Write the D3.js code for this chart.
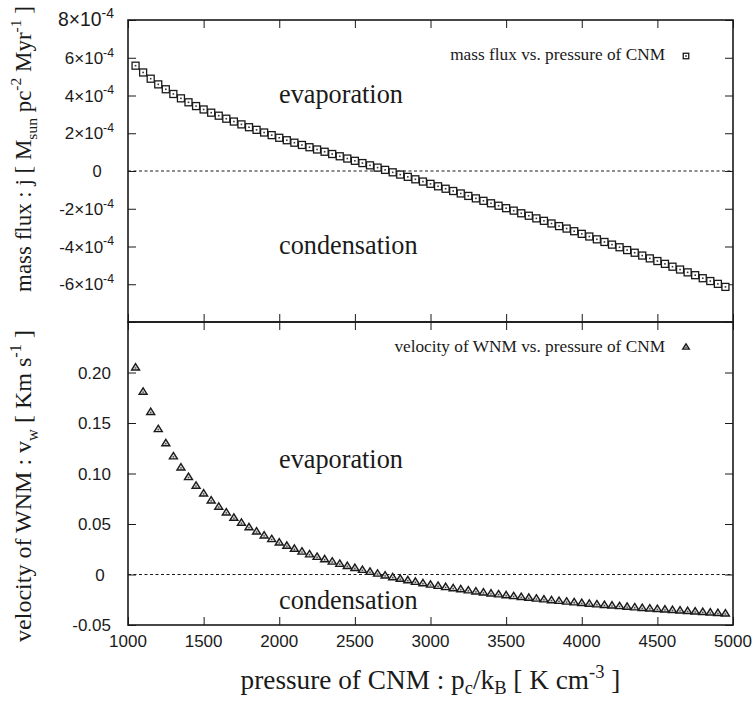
<!DOCTYPE html>
<html><head><meta charset="utf-8">
<script src="https://cdn.jsdelivr.net/npm/d3@7"></script>
<style>body{margin:0;background:#fff}svg{display:block}</style>
</head><body>
<svg id="chart" width="756" height="704"></svg>
<script>
// ---------- data ----------
const pressure = [1050,1100,1150,1200,1250,1300,1350,1400,1450,1500,1550,1600,1650,1700,1750,1800,1850,1900,1950,2000,
  2050,2100,2150,2200,2250,2300,2350,2400,2450,2500,2550,2600,2650,2700,2750,2800,2850,2900,2950,3000,
  3050,3100,3150,3200,3250,3300,3350,3400,3450,3500,3550,3600,3650,3700,3750,3800,3850,3900,3950,4000,
  4050,4100,4150,4200,4250,4300,4350,4400,4450,4500,4550,4600,4650,4700,4750,4800,4850,4900,4950];
const massFlux = [5.58e-4,5.22e-4,4.89e-4,4.59e-4,4.33e-4,4.08e-4,3.85e-4,3.64e-4,3.44e-4,3.26e-4,3.09e-4,2.93e-4,
  2.77e-4,2.62e-4,2.47e-4,2.32e-4,2.18e-4,2.04e-4,1.90e-4,1.76e-4,1.63e-4,1.50e-4,1.38e-4,1.26e-4,1.14e-4,1.02e-4,
  0.90e-4,0.78e-4,0.66e-4,0.54e-4,0.42e-4,0.30e-4,0.18e-4,0.06e-4,-0.07e-4,-0.19e-4,
  -0.31e-4,-0.44e-4,-0.56e-4,-0.68e-4,-0.81e-4,-0.94e-4,-1.06e-4,-1.19e-4,-1.32e-4,-1.45e-4,-1.58e-4,-1.71e-4,
  -1.84e-4,-1.97e-4,-2.10e-4,-2.24e-4,-2.37e-4,-2.51e-4,-2.64e-4,-2.78e-4,-2.92e-4,-3.05e-4,-3.19e-4,-3.33e-4,
  -3.47e-4,-3.62e-4,-3.76e-4,-3.90e-4,-4.04e-4,-4.19e-4,-4.33e-4,-4.48e-4,-4.63e-4,-4.77e-4,-4.92e-4,-5.07e-4,
  -5.22e-4,-5.37e-4,-5.52e-4,-5.68e-4,-5.83e-4,-5.98e-4,-6.14e-4];
const velocity = [0.205,0.181,0.161,0.144,0.130,0.117,0.106,0.0965,0.0880,0.0803,0.0734,0.0672,0.0615,0.0562,0.0513,
  0.0468,0.0426,0.0387,0.0351,0.0317,0.0285,0.0255,0.0227,0.0200,0.0175,0.0151,0.0128,0.0106,0.0085,0.0065,0.0046,
  0.0027,0.0009,-0.0009,-0.0026,-0.0042,-0.0057,-0.0072,-0.0086,-0.0100,-0.0112,-0.0124,-0.0135,-0.0146,-0.0157,
  -0.0167,-0.0177,-0.0187,-0.0196,-0.0205,-0.0214,-0.0222,-0.0230,-0.0238,-0.0246,-0.0254,-0.0261,-0.0268,-0.0275,
  -0.0282,-0.0289,-0.0295,-0.0301,-0.0307,-0.0313,-0.0319,-0.0325,-0.0331,-0.0336,-0.0341,-0.0346,-0.0351,-0.0356,
  -0.0361,-0.0366,-0.0371,-0.0376,-0.0381,-0.0386];
const xTicks = [1000,1500,2000,2500,3000,3500,4000,4500,5000];
const xTickLabels = ["1000","1500","2000","2500","3000","3500","4000","4500","5000"];
const fluxTicks = [-8e-4,-6e-4,-4e-4,-2e-4,0,2e-4,4e-4,6e-4,8e-4];
const fluxTickMantissa = ["", "-6","-4","-2","0","2","4","6","8"];
const velTicks = [-0.05,0,0.05,0.10,0.15,0.20,0.25];
const velTickLabels = ["-0.05","0","0.05","0.10","0.15","0.20",""];
const legendFlux = "mass flux vs. pressure of CNM";
const legendVel = "velocity of WNM vs. pressure of CNM";
const regionUp = "evaporation", regionDown = "condensation";

// ---------- layout ----------
const L=128, R=733, T1=20, M=322, B2=625, TK=8;
const SANS="'Liberation Sans', Arial, sans-serif", SERIF="'Liberation Serif', 'Times New Roman', serif";
const INK="#1a1a1a";
const svg=d3.select('#chart');
const x=d3.scaleLinear().domain([1000,5000]).range([L,R]);
const yTop=d3.scaleLinear().domain([-8e-4,8e-4]).range([M,T1]);
const yBot=d3.scaleLinear().domain([-0.05,0.25]).range([B2,M]);

function ticks(axis, tr){
  const g=svg.append('g').attr('transform',tr).call(axis.tickFormat('').tickSizeOuter(0));
  g.select('.domain').remove();
  g.selectAll('line').attr('stroke',INK).attr('stroke-width',1);
}
ticks(d3.axisTop(x).tickValues(xTicks).tickSizeInner(-TK), `translate(0,${T1})`);
ticks(d3.axisBottom(x).tickValues(xTicks).tickSizeInner(-TK), `translate(0,${M})`);
ticks(d3.axisTop(x).tickValues(xTicks).tickSizeInner(-TK), `translate(0,${M})`);
ticks(d3.axisBottom(x).tickValues(xTicks).tickSizeInner(-TK), `translate(0,${B2})`);
ticks(d3.axisLeft(yTop).tickValues(fluxTicks).tickSizeInner(-TK), `translate(${L},0)`);
ticks(d3.axisRight(yTop).tickValues(fluxTicks).tickSizeInner(-TK), `translate(${R},0)`);
ticks(d3.axisLeft(yBot).tickValues(velTicks).tickSizeInner(-TK), `translate(${L},0)`);
ticks(d3.axisRight(yBot).tickValues(velTicks).tickSizeInner(-TK), `translate(${R},0)`);

[yTop,yBot].forEach(s=>{
  svg.append('line').attr('x1',L).attr('x2',R).attr('y1',s(0)).attr('y2',s(0))
    .attr('stroke',INK).attr('stroke-width',1).attr('stroke-dasharray','3,2.5');
});

svg.append('rect').attr('x',L).attr('y',T1).attr('width',R-L).attr('height',M-T1)
  .attr('fill','none').attr('stroke',INK).attr('stroke-width',1.6);
svg.append('rect').attr('x',L).attr('y',M).attr('width',R-L).attr('height',B2-M)
  .attr('fill','none').attr('stroke',INK).attr('stroke-width',1.6);

function rich(g, parts, size, small, subShift){
  small = small || 0.68; subShift = subShift || 0.28;
  g.selectAll('tspan').remove();
  g.attr('font-size',size);
  let shift=0;
  parts.forEach(([t,type])=>{
    const target = type==='sup' ? -0.42*size : type==='sub' ? subShift*size : 0;
    const ts=g.append('tspan').text(t).attr('dy',target-shift);
    if(type) ts.attr('font-size',small*size);
    shift=target;
  });
}
function fit(g, parts, target, small, subShift){
  rich(g, parts, 20, small, subShift);
  const w=g.node().getComputedTextLength();
  const s=20*target/w;
  rich(g, parts, s, small, subShift);
  return s;
}

// y tick labels (top): size fitted so that "8x10^-4" spans ~56px
let fluxSize=17;
fluxTicks.forEach((v,i)=>{
  const m=fluxTickMantissa[i]; if(!m) return;
  const t=svg.append('text').attr('font-family',SANS).attr('fill',INK).attr('y',yTop(v)+6);
  if(m==="0"){ t.attr('x',97).attr('text-anchor','middle').attr('font-size',16.5).text("0"); }
  else {
    t.attr('x',114).attr('text-anchor','end');
    if(m==="8") fluxSize=fit(t,[[m+"×10",null],["-4","sup"]],56,0.72);
    else rich(t,[[m+"×10",null],["-4","sup"]],fluxSize,0.72);
  }
});
// y tick labels (bottom)
velTicks.forEach((v,i)=>{
  const lab=velTickLabels[i]; if(!lab) return;
  svg.append('text').attr('font-family',SANS).attr('fill',INK).attr('font-size',17)
    .attr('x', lab==="0"?100:111).attr('text-anchor', lab==="0"?'middle':'end')
    .attr('y',yBot(v)+6).text(lab);
});
// x tick labels
xTicks.forEach((v,i)=>{
  svg.append('text').attr('font-family',SANS).attr('fill',INK).attr('font-size',17)
    .attr('x',x(v)).attr('text-anchor','middle').attr('y',B2+22).text(xTickLabels[i]);
});

// axis titles
const xt=svg.append('text').attr('font-family',SERIF).attr('fill',INK).attr('x',(L+R)/2).attr('y',689).attr('text-anchor','middle');
fit(xt,[["pressure of CNM : p",null],["c","sub"],["/k",null],["B","sub"],[" [ K cm",null],["-3","sup"],[" ]",null]],380,0.68,0.2);
const yt1=svg.append('text').attr('font-family',SERIF).attr('fill',INK).attr('text-anchor','middle')
  .attr('transform','translate(31,149) rotate(-90)');
fit(yt1,[["mass flux : j [ M",null],["sun","sub"],[" pc",null],["-2","sup"],[" Myr",null],["-1","sup"],[" ]",null]],286);
const yt2=svg.append('text').attr('font-family',SERIF).attr('fill',INK).attr('text-anchor','middle')
  .attr('transform','translate(31,486) rotate(-90)');
fit(yt2,[["velocity of WNM : v",null],["w","sub"],[" [ Km s",null],["-1","sup"],[" ]",null]],312);

// region annotations
const ev1=svg.append('text').attr('font-family',SERIF).attr('fill',INK).attr('x',279).attr('y',103);
const rs=fit(ev1,[[regionUp,null]],124);
svg.append('text').attr('font-family',SERIF).attr('fill',INK).attr('x',279).attr('y',254).attr('font-size',rs).text(regionDown);
svg.append('text').attr('font-family',SERIF).attr('fill',INK).attr('x',279).attr('y',468).attr('font-size',rs).text(regionUp);
svg.append('text').attr('font-family',SERIF).attr('fill',INK).attr('x',279).attr('y',609).attr('font-size',rs).text(regionDown);

// legends
const lg1=svg.append('text').attr('font-family',SERIF).attr('fill',INK).attr('x',665).attr('y',60).attr('text-anchor','end');
const ls=fit(lg1,[[legendFlux,null]],215);
svg.append('text').attr('font-family',SERIF).attr('fill',INK).attr('x',665).attr('y',352).attr('text-anchor','end')
  .attr('font-size',ls).text(legendVel);

// markers
function squareMarker(g, cx, cy, s){
  g.append('rect').attr('x',cx-s/2).attr('y',cy-s/2).attr('width',s).attr('height',s)
    .attr('fill','#fff').attr('stroke',INK).attr('stroke-width',1.3);
  g.append('rect').attr('x',cx-0.8).attr('y',cy-0.8).attr('width',1.6).attr('height',1.6).attr('fill','#333');
}
function triMarker(g, cx, cy, s){
  const h=s*0.8;
  g.append('path').attr('d',`M${cx},${cy-h*0.6}L${cx+s/2},${cy+h*0.4}L${cx-s/2},${cy+h*0.4}Z`)
    .attr('fill','#d8d8d8').attr('stroke',INK).attr('stroke-width',1.4).attr('stroke-linejoin','miter');
  g.append('rect').attr('x',cx-0.7).attr('y',cy-0.2).attr('width',1.4).attr('height',1.4).attr('fill','#444');
}
const gSq=svg.append('g');
pressure.forEach((p,i)=>squareMarker(gSq, x(p), yTop(massFlux[i]), 7));
const gTr=svg.append('g');
pressure.forEach((p,i)=>triMarker(gTr, x(p), yBot(velocity[i]), 8));
squareMarker(svg, 686, 56, 5.5);
triMarker(svg, 686, 347, 6.5);
</script>
</body></html>
